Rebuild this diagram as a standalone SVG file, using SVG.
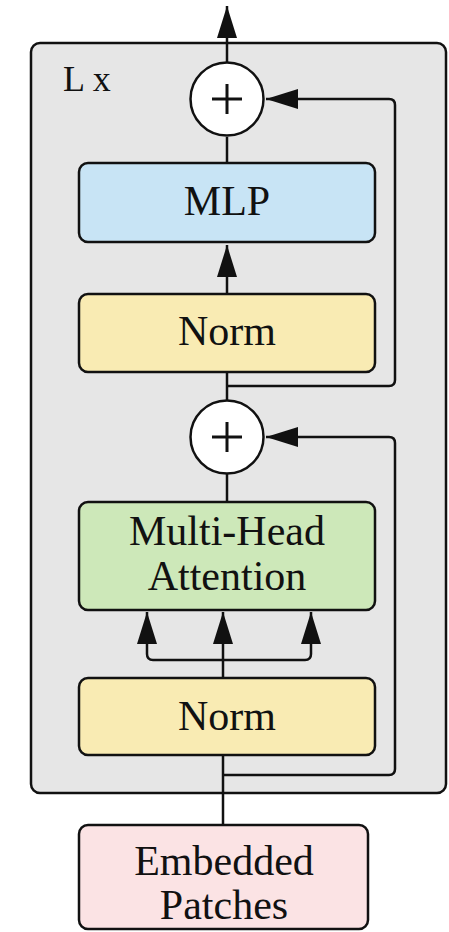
<svg xmlns="http://www.w3.org/2000/svg" width="449" height="932" viewBox="0 0 449 932">
  <style>
    .box { stroke: #111; stroke-width: 2.5; }
    .lbl { font-family: "Liberation Serif", "Times New Roman", serif; font-size: 42px; fill: #111; text-anchor: middle; }
    .ln { fill: none; stroke: #111; stroke-width: 2.5; }
    .add { fill: #fff; stroke: #111; stroke-width: 2.5; }
    .plus { stroke: #111; stroke-width: 3; }
  </style>
  <defs>
    <marker id="arr" markerUnits="userSpaceOnUse" markerWidth="34" markerHeight="22" refX="32" refY="11" orient="auto">
      <path d="M0,1 L32,11 L0,21 Z" fill="#111"/>
    </marker>
  </defs>
  <rect width="449" height="932" fill="#fff"/>

  <g id="block">
    <rect x="31" y="43" width="415" height="750" rx="9" fill="#e6e6e6" class="box"/>
    <text x="63" y="91" font-family="Liberation Serif, serif" font-size="36" fill="#111">L x</text>
  </g>

  <g id="connectors">
    <line x1="227" y1="62" x2="227" y2="6" class="ln" marker-end="url(#arr)"/>
    <line x1="227" y1="137" x2="227" y2="163" class="ln"/>
    <line x1="227" y1="294" x2="227" y2="245" class="ln" marker-end="url(#arr)"/>
    <line x1="227" y1="372" x2="227" y2="401" class="ln"/>
    <path d="M227,386 H389 Q395,386 395,380 V105 Q395,99 389,99 H266" class="ln" marker-end="url(#arr)"/>
    <line x1="227" y1="474" x2="227" y2="502" class="ln"/>
    <path d="M223,775 H389 Q395,775 395,769 V443 Q395,437 389,437 H266" class="ln" marker-end="url(#arr)"/>
    <path d="M223,678 V612" class="ln" marker-end="url(#arr)"/>
    <path d="M223,660 H153 Q147,660 147,654 V612" class="ln" marker-end="url(#arr)"/>
    <path d="M223,660 H305 Q311,660 311,654 V612" class="ln" marker-end="url(#arr)"/>
    <line x1="223" y1="825" x2="223" y2="755" class="ln"/>
  </g>

  <g id="add-top">
    <circle cx="227" cy="99" r="36.5" class="add"/>
    <line x1="212" y1="99" x2="242" y2="99" class="plus"/>
    <line x1="227" y1="84" x2="227" y2="114" class="plus"/>
  </g>

  <g id="mlp">
    <rect x="79" y="163" width="296" height="79" rx="9" fill="#c8e4f5" class="box"/>
    <text x="227" y="215" class="lbl">MLP</text>
  </g>

  <g id="norm-top">
    <rect x="79" y="294" width="296" height="78" rx="9" fill="#f9ebb3" class="box"/>
    <text x="227" y="345" class="lbl">Norm</text>
  </g>

  <g id="add-bottom">
    <circle cx="227" cy="437" r="36.5" class="add"/>
    <line x1="212" y1="437" x2="242" y2="437" class="plus"/>
    <line x1="227" y1="422" x2="227" y2="452" class="plus"/>
  </g>

  <g id="mha">
    <rect x="79" y="502" width="296" height="108" rx="9" fill="#cde8b9" class="box"/>
    <text x="227" y="545" class="lbl">Multi-Head</text>
    <text x="227" y="590" class="lbl">Attention</text>
  </g>

  <g id="norm-bottom">
    <rect x="79" y="678" width="296" height="77" rx="9" fill="#f9ebb3" class="box"/>
    <text x="227" y="730" class="lbl">Norm</text>
  </g>

  <g id="embedded">
    <rect x="79" y="825" width="289" height="104" rx="9" fill="#fbe3e4" class="box"/>
    <text x="224" y="875" class="lbl">Embedded</text>
    <text x="224" y="919" class="lbl">Patches</text>
  </g>
</svg>
